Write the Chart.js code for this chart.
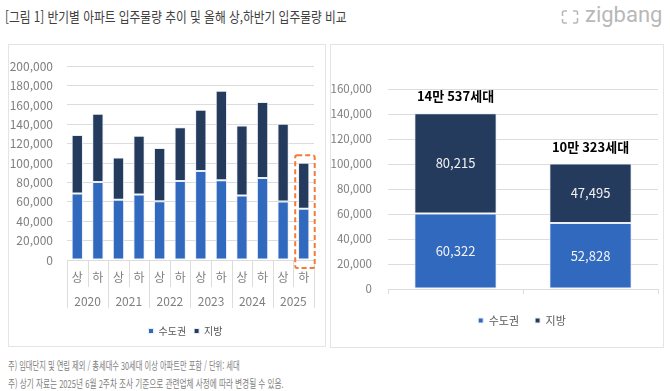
<!DOCTYPE html>
<html lang="ko">
<head>
<meta charset="utf-8">
<script src="https://cdn.jsdelivr.net/npm/chart.js@4.4.1/dist/chart.umd.min.js"></script>
<style>
  body { margin: 0; width: 670px; height: 391px; background: #fff; position: relative; overflow: hidden;
         font-family: 'Noto Sans CJK KR', sans-serif; }
  .title { position: absolute; left: 5px; top: 6px; font-size: 14px; color: #404040; white-space: nowrap;
           transform: scaleX(0.837); transform-origin: left top; }
  .logo { position: absolute; left: 561px; top: 2px; color: #b8b8b8; font-family: Roboto, sans-serif;
          font-size: 22px; white-space: nowrap; }
  .logo svg { vertical-align: -3px; margin-right: 6px; }
  .panel { position: absolute; border: 1px solid #e4e4e4; }
  #leftPanel { left: 8px; top: 44px; width: 316px; height: 301px; }
  #rightPanel { left: 330px; top: 44px; width: 332px; height: 302px; }
  .panel canvas { position: absolute; left: 0; top: 0; }
  .note { position: absolute; left: 8px; font-size: 11px; color: #808080; white-space: nowrap;
          transform-origin: left top; }
</style>
</head>
<body>
<div class="title">[그림 1] 반기별 아파트 입주물량 추이 및 올해 상,하반기 입주물량 비교</div>
<div class="logo"><svg width="18" height="16" viewBox="0 0 18 16"><path d="M6 2 H3 Q1.5 2 1.5 4 V7 M1.5 10 V12 Q1.5 14 3 14 H6 M12 14 H15 Q16.5 14 16.5 12 V9 M16.5 6 V4 Q16.5 2 15 2 H12" fill="none" stroke="#b8b8b8" stroke-width="1.6"/></svg>zigbang</div>
<div class="panel" id="leftPanel"><canvas id="trendChart" width="316" height="301"></canvas></div>
<div class="panel" id="rightPanel"><canvas id="compareChart" width="330" height="302"></canvas></div>
<div class="note" style="top:357px; transform:scaleX(0.66)">주) 임대단지 및 연립 제외 / 총세대수 30세대 이상 아파트만 포함 / 단위: 세대</div>
<div class="note" style="top:375px; transform:scaleX(0.694)">주) 상기 자료는 2025년 6월 2주차 조사 기준으로 관련업체 사정에 따라 변경될 수 있음.</div>

<script>
// ---- data ----
const halfLabels = ['상', '하', '상', '하', '상', '하', '상', '하', '상', '하', '상', '하'];
const years = ['2020', '2021', '2022', '2023', '2024', '2025'];
const capitalArea = [68600, 80600, 62100, 67600, 60700, 81600, 91900, 82300, 66600, 84700, 60322, 52828];
const regional    = [60400, 70400, 43600, 60700, 54900, 55300, 63100, 92300, 72300, 78300, 80215, 47495];

const compareLabels = ['상', '하'];
const compareCapital = [60322, 52828];
const compareRegional = [80215, 47495];

const seriesNames = ['수도권', '지방'];
const BLUE = '#3169BF';
const NAVY = '#253B5E';
const GRID = '#dcdcdc';
const TICK = '#7f7f7f';
const FONT = "'Noto Sans CJK KR', sans-serif";

Chart.defaults.font.family = FONT;
Chart.defaults.animation = false;

const fmt = v => v.toLocaleString('en-US');

// centre the legend under the plot area instead of the whole canvas
const legendUnderPlot = {
    id: 'legendUnderPlot',
    afterLayout(chart, args, opts) {
        const lg = chart.legend, area = chart.chartArea;
        lg.left = area.left - (opts.shift || 0);
        lg.right = area.right;
        lg.width = lg.right - lg.left;
    }
};

// Year row, separators and the dashed box round the current half
const halfYearAxis = {
    id: 'halfYearAxis',
    afterDraw(chart) {
        const ctx = chart.ctx, area = chart.chartArea, x = chart.scales.x;
        const step = x.getPixelForValue(1) - x.getPixelForValue(0);
        const first = x.getPixelForValue(0) - step / 2;
        ctx.save();
        ctx.strokeStyle = GRID;
        ctx.lineWidth = 1;
        for (let i = 0; i <= halfLabels.length; i++) {
            const px = Math.round(first + i * step) + 0.5;
            ctx.beginPath();
            ctx.moveTo(px, area.bottom);
            ctx.lineTo(px, area.bottom + (i % 2 === 0 ? 48 : 27));
            ctx.stroke();
        }
        ctx.fillStyle = TICK;
        ctx.font = '12px ' + FONT;
        ctx.textAlign = 'center';
        ctx.textBaseline = 'middle';
        years.forEach((yr, j) => {
            const cx = (x.getPixelForValue(2 * j) + x.getPixelForValue(2 * j + 1)) / 2;
            ctx.fillText(yr, cx, area.bottom + 41);
        });

        const bars = chart.getDatasetMeta(1).data;
        const last = bars[bars.length - 1];
        ctx.strokeStyle = '#F47A3A';
        ctx.lineWidth = 2;
        ctx.setLineDash([5, 3]);
        ctx.beginPath();
        ctx.roundRect(last.x - 8.5, last.y - 7.5, 19.5, area.bottom + 8 - (last.y - 7.5), 2);
        ctx.stroke();
        ctx.restore();
    }
};

// Values inside segments and totals above bars
const segmentLabels = {
    id: 'segmentLabels',
    afterDatasetsDraw(chart) {
        const ctx = chart.ctx;
        ctx.save();
        ctx.textAlign = 'center';
        ctx.textBaseline = 'middle';
        ctx.font = '13px ' + FONT;
        ctx.fillStyle = '#f2f2f2';
        chart.data.datasets.forEach((ds, di) => {
            chart.getDatasetMeta(di).data.forEach((bar, i) => {
                ctx.fillText(fmt(ds.data[i]), bar.x, (bar.y + bar.base) / 2);
            });
        });
        ctx.font = 'bold 13px ' + FONT;
        ctx.fillStyle = '#000';
        chart.getDatasetMeta(1).data.forEach((bar, i) => {
            const total = compareCapital[i] + compareRegional[i];
            const text = Math.floor(total / 10000) + '만 ' + (total % 10000) + '세대';
            ctx.fillText(text, bar.x, bar.y - 17);
        });
        ctx.restore();
    }
};

function initTrendChart() {
    const ctx = document.getElementById('trendChart').getContext('2d');
    new Chart(ctx, {
        type: 'bar',
        data: {
            labels: halfLabels,
            datasets: [{
                label: seriesNames[0],
                data: capitalArea,
                backgroundColor: BLUE,
                borderColor: '#e9eef6',
                borderWidth: 1,
                borderSkipped: false,
                barPercentage: 0.55,
                categoryPercentage: 1
            }, {
                label: seriesNames[1],
                data: regional,
                backgroundColor: NAVY,
                borderColor: '#e9eef6',
                borderWidth: 1,
                borderSkipped: false,
                barPercentage: 0.55,
                categoryPercentage: 1
            }]
        },
        options: {
            responsive: false,
            devicePixelRatio: 1,
            layout: { padding: { top: 13, right: 11, left: 0, bottom: 0 } },
            plugins: {
                legend: {
                    position: 'bottom',
                    labels: { boxWidth: 5, boxHeight: 5, padding: 8, color: '#595959', font: { size: 10 } }
                },
                legendUnderPlot: { shift: 10 },
                tooltip: { enabled: false }
            },
            scales: {
                x: {
                    stacked: true,
                    grid: { display: false, drawTicks: false },
                    border: { display: false },
                    ticks: { color: TICK, font: { size: 12 }, padding: 10, maxRotation: 0, autoSkip: false },
                    afterFit: s => { s.height = 58; }
                },
                y: {
                    stacked: true,
                    min: 0,
                    max: 200000,
                    grid: { color: GRID, drawTicks: false },
                    border: { display: false },
                    ticks: { stepSize: 20000, color: TICK, font: { size: 12 }, padding: 14, callback: fmt },
                    afterFit: s => { s.width = 58; }
                }
            }
        },
        plugins: [halfYearAxis, legendUnderPlot]
    });
}

function initCompareChart() {
    const ctx = document.getElementById('compareChart').getContext('2d');
    new Chart(ctx, {
        type: 'bar',
        data: {
            labels: compareLabels,
            datasets: [{
                label: seriesNames[0],
                data: compareCapital,
                backgroundColor: BLUE,
                borderColor: '#e9eef6',
                borderWidth: 1,
                borderSkipped: false,
                barPercentage: 0.61,
                categoryPercentage: 1
            }, {
                label: seriesNames[1],
                data: compareRegional,
                backgroundColor: NAVY,
                borderColor: '#e9eef6',
                borderWidth: 1,
                borderSkipped: false,
                barPercentage: 0.61,
                categoryPercentage: 1
            }]
        },
        options: {
            responsive: false,
            devicePixelRatio: 1,
            layout: { padding: { top: 44, right: 3, left: 0, bottom: 11 } },
            plugins: {
                legend: {
                    position: 'bottom',
                    labels: { boxWidth: 5, boxHeight: 5, padding: 16, color: '#595959', font: { size: 11 } }
                },
                legendUnderPlot: { shift: 2 },
                tooltip: { enabled: false }
            },
            scales: {
                x: {
                    stacked: true,
                    grid: { offset: true, drawOnChartArea: false, tickLength: 5, color: GRID },
                    border: { display: false },
                    ticks: { color: TICK, font: { size: 12 }, padding: 4, maxRotation: 0 },
                    afterFit: s => { s.height = 10; }
                },
                y: {
                    stacked: true,
                    min: 0,
                    max: 160000,
                    grid: { color: GRID, drawTicks: false },
                    border: { display: false },
                    ticks: { stepSize: 20000, color: TICK, font: { size: 11.5 }, padding: 16, callback: fmt },
                    afterFit: s => { s.width = 57; }
                }
            }
        },
        plugins: [segmentLabels, legendUnderPlot]
    });
}

initTrendChart();
initCompareChart();
</script>
</body>
</html>
